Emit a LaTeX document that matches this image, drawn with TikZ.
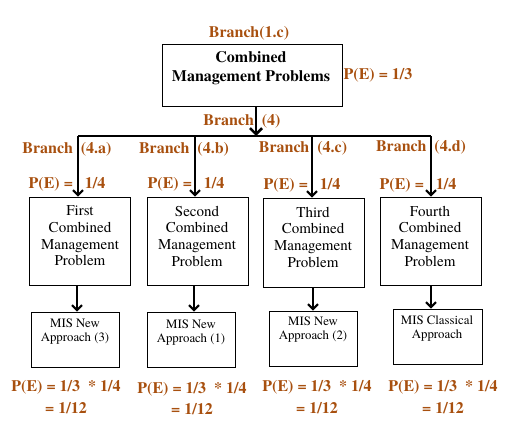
\documentclass[tikz,border=0pt]{standalone}
\usepackage{fontspec}
\setmainfont{texgyretermes}[Extension=.otf,UprightFont=*-regular,BoldFont=*-bold,ItalicFont=*-italic,BoldItalicFont=*-bolditalic]
\usetikzlibrary{arrows.meta}
\definecolor{brn}{RGB}{168,80,15}
\begin{document}
\begin{tikzpicture}[x=1pt,y=-1pt,
  lbl/.style={text=brn,font=\fontsize{16}{18}\selectfont\bfseries,inner sep=0pt,anchor=center},
  bigbox/.style={draw,line width=0.9pt,inner sep=0pt},
  bigtxt/.style={align=center,font=\fontsize{15}{16.7}\selectfont,inner sep=0pt},
  smalltxt/.style={align=center,font=\fontsize{12.8}{14}\selectfont,inner sep=0pt},
  arr/.style={line width=2pt,-{Straight Barb[length=5pt,width=10pt,line width=2pt]}}]
\useasboundingbox (0,0) rectangle (519,434);
% top box
\node[bigbox,minimum width=180pt,minimum height=62pt] (top) at (252,75) {};
\node[font=\fontsize{16}{19}\selectfont\bfseries,align=center,inner sep=0pt] (toptxt) at (251,68) {Combined\\Management Problems};
\node[lbl] (b1c) at (249,33) {Branch(1.c)};
\node[lbl] (pe3) at (378,75) {P(E) = 1/3};
% branch line
\coordinate (hub) at (256,136);
\coordinate (hl) at (78,136);
\coordinate (hr) at (431,136);
\draw[line width=2.6pt,-{Straight Barb[length=6pt,width=12pt,line width=2.6pt]}] (top.south -| hub) -- (hub);
\draw[line width=2pt] (hl) -- (hr);
\node[lbl] (b4) at (242,121) {Branch\ \ (4)};
% second row boxes
\node[bigbox,minimum width=101pt,minimum height=88pt] (p1) at (80,241) {};
\node[bigbox,minimum width=101pt,minimum height=88pt] (p2) at (197.5,241) {};
\node[bigbox,minimum width=101pt,minimum height=89pt] (p3) at (313.5,242.5) {};
\node[bigbox,minimum width=101pt,minimum height=88pt] (p4) at (430.5,241) {};
\node[bigtxt] (t1) at (80,236) {First\\Combined\\Management\\Problem};
\node[bigtxt] (t2) at (197,236) {Second\\Combined\\Management\\Problem};
\node[bigtxt] (t3) at (313,237) {Third\\Combined\\Management\\Problem};
\node[bigtxt] (t4) at (430,236) {Fourth\\Combined\\Management\\Problem};
% drops
\coordinate (d1) at (78,136);
\coordinate (d2) at (195,136);
\coordinate (d3) at (312,136);
\coordinate (d4) at (431,136);
\draw[arr] (d1) -- (d1 |- p1.north);
\draw[arr] (d2) -- (d2 |- p2.north);
\draw[arr] (d3) -- (d3 |- p3.north);
\draw[arr] (d4) -- (d4 |- p4.north);
\node[lbl] (b4a) at (67,149) {Branch\ \ (4.a)};
\node[lbl] (b4b) at (184,149) {Branch\ \ (4.b)};
\node[lbl] (b4c) at (303,148) {Branch\ \ (4.c)};
\node[lbl] (b4d) at (421,147) {Branch\ \ (4.d)};
\node[lbl] (q1) at (67,184) {P(E) =\ \ \ 1/4};
\node[lbl] (q2) at (186,184) {P(E) =\ \ \ 1/4};
\node[lbl] (q3) at (302,185) {P(E) =\ \ \ 1/4};
\node[lbl] (q4) at (418,185) {P(E) =\ \ \ 1/4};
% small boxes
\node[bigbox,minimum width=88pt,minimum height=55pt] (m1) at (75,339.5) {};
\node[bigbox,minimum width=88pt,minimum height=55pt] (m2) at (191,339.5) {};
\node[bigbox,minimum width=88pt,minimum height=55pt] (m3) at (313,338.5) {};
\node[bigbox,minimum width=89pt,minimum height=55pt] (m4) at (437.5,336.5) {};
\node[smalltxt] (s1) at (75,332) {MIS New\\Approach (3)};
\node[smalltxt] (s2) at (191,333) {MIS New\\Approach (1)};
\node[smalltxt] (s3) at (313,330) {MIS New\\Approach (2)};
\node[smalltxt] (s4) at (437,329) {MIS Classical\\Approach};
\draw[arr] (p1.south -| 77,0) -- (m1.north -| 77,0);
\draw[arr] (p2.south -| 194,0) -- (m2.north -| 194,0);
\draw[arr] (p3.south -| 313,0) -- (m3.north -| 313,0);
\draw[arr] (p4.south -| 431,0) -- (m4.north -| 431,0);
% bottom
\node[lbl] (r1a) at (66,387) {P(E) = 1/3\ \ * 1/4};
\node[lbl] (r1b) at (66,408) {= 1/12};
\node[lbl] (r2a) at (192,389) {P(E) = 1/3\ \ * 1/4};
\node[lbl] (r2b) at (192,409) {= 1/12};
\node[lbl] (r3a) at (317,387) {P(E) = 1/3\ \ * 1/4};
\node[lbl] (r3b) at (317,408) {= 1/12};
\node[lbl] (r4a) at (443,387) {P(E) = 1/3\ \ * 1/4};
\node[lbl] (r4b) at (443,408) {= 1/12};
\end{tikzpicture}
\end{document}
